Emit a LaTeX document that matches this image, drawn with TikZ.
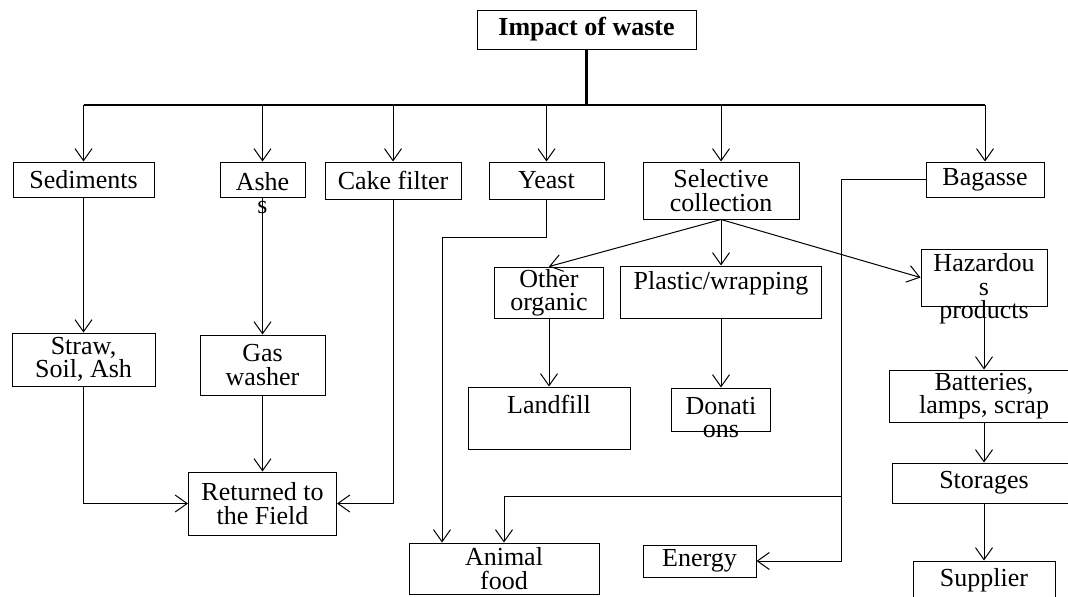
\documentclass[tikz,border=0pt]{standalone}
\usepackage{fontspec}
\setmainfont{Liberation Serif}
\usetikzlibrary{arrows.meta}

\newcommand{\fs}{\fontsize{13}{11.7}\selectfont}
\tikzset{
  box/.style={draw, line width=0.5pt, inner sep=0pt, align=center, font=\fs},
  txt/.style={inner sep=0pt, align=center, font=\fs},
  sz/.style 2 args={minimum width=#1, minimum height=#2},
  wire/.style={line width=0.5pt},
  arr/.style={wire, -{Straight Barb[length=6pt,width=8.5pt]}},
}

\begin{document}
\begin{tikzpicture}[x=0.5pt, y=-0.5pt]
  \useasboundingbox (0,0) rectangle (1068,596);

  % top
  \node[box, sz={109.5pt}{19.5pt}, font=\fs\bfseries] (impact) at (586.5,29.5) {Impact of waste};

  % first row
  \node[box, sz={70.5pt}{17.5pt}] (sed) at (83.5,179.5) {Sediments};
  \node[box, sz={42.5pt}{17.5pt}, label={[txt,yshift=-6.75pt]center:{Ashe\\s}}] (ash) at (262.5,179.5) {};
  \node[box, sz={68pt}{18.5pt}] (cake) at (393,180.5) {Cake filter};
  \node[box, sz={57.5pt}{18.5pt}] (yeast) at (546.5,180.5) {Yeast};
  \node[box, sz={78pt}{28.5pt}] (sel) at (721,190.5) {Selective\\collection};
  \node[box, sz={59pt}{17.5pt}] (bag) at (985,179.5) {Bagasse};

  % left branches
  \node[box, sz={71.5pt}{26.5pt}] (straw) at (83.5,359.5) {Straw,\\Soil, Ash};
  \node[box, sz={62.5pt}{30pt}] (gas) at (262.5,365) {Gas\\washer};
  \node[box, sz={74pt}{31.5pt}] (ret) at (262.5,503.5) {Returned to\\the Field};

  % selective collection
  \node[box, sz={54.5pt}{25.5pt}] (oth) at (549,292.5) {Other\\organic};
  \node[box, sz={100.5pt}{26pt}, label={[txt,yshift=4.5pt]center:{Plastic/wrapping}}] (pla) at (721,292) {};
  \node[box, sz={63pt}{28.5pt}, label={[txt,yshift=-5.75pt]center:{Hazardou\\s\\products}}] (haz) at (984,277.5) {};
  \node[box, sz={81pt}{31pt}, label={[txt,yshift=7pt]center:{Landfill}}] (land) at (549,418) {};
  \node[box, sz={49.5pt}{21.5pt}, label={[txt,yshift=-4pt]center:{Donati\\ons}}] (don) at (721,409.5) {};
  \node[box, sz={95pt}{26pt}] (bat) at (984,396) {Batteries,\\lamps, scrap};
  \node[box, sz={92pt}{20pt}] (sto) at (984,483) {Storages};
  \node[box, sz={71pt}{19pt}] (sup) at (984,580) {Supplier};

  % bottom
  \node[box, sz={95pt}{25.5pt}] (food) at (504,568.5) {Animal\\food};
  \node[box, sz={56.5pt}{16pt}] (ene) at (699.5,561) {Energy};

  \coordinate (bus) at (586.5,105);
  \coordinate (yk) at (442,237);
  \coordinate (bk) at (841,496);

  \draw[wire, line width=1.1pt] (impact.south) -- (bus);
  \draw[wire, line width=0.6pt] (sed.north |- bus) -- (bag.north |- bus);
  \foreach \n in {sed,ash,cake,yeast,sel,bag}
    \draw[arr] (\n.north |- bus) -- (\n.north);

  \draw[arr] (sed) -- (straw);
  \draw[arr] (ash.south) -- (gas.north);
  \draw[arr] (gas) -- (ret);
  \draw[arr] (straw.south) |- (ret.west);
  \draw[arr] (cake.south) |- (ret.east);

  \draw[arr] (sel.south) -- (oth.north);
  \draw[arr] (sel.south) -- (pla.north);
  \draw[arr] (sel.south) -- (haz.west);
  \draw[arr] (oth) -- (land);
  \draw[arr] (pla) -- (don);
  \draw[arr] (haz) -- (bat);
  \draw[arr] (bat) -- (sto);
  \draw[arr] (sto) -- (sup);

  \draw[arr] (yeast.south) |- (yk) -- (yk |- food.north);
  \draw[arr] (bag.west) -| (bk) |- (ene.east);
  \draw[arr] (bk) -| (food.north);
\end{tikzpicture}
\end{document}
